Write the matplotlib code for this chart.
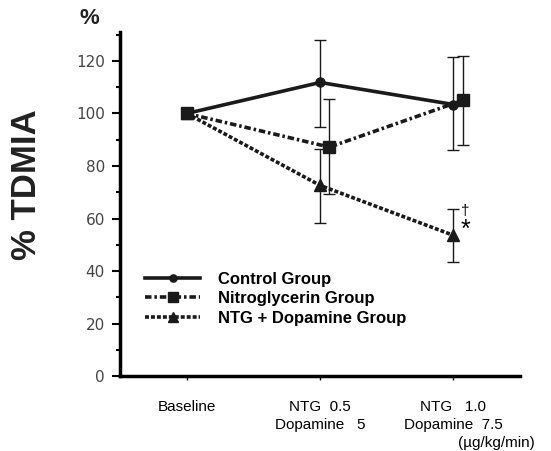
import numpy as np
import matplotlib.pyplot as plt

plt.rcParams['font.family'] = ['Liberation Sans', 'DejaVu Sans']

# data
stages = ['Baseline', 'NTG  0.5\nDopamine   5', 'NTG   1.0\nDopamine  7.5']
control = [100, 111.8, 103.4]
control_err_hi = [0, 16, 18]
control_err_lo = [0, 16.8, 17.4]
nitro = [100, 87.2, 105]
nitro_err_hi = [0, 18.4, 16.8]
nitro_err_lo = [0, 18, 17]
ntg_dop = [100, 72.6, 53.6]
ntg_dop_err_hi = [0, 14, 10]
ntg_dop_err_lo = [0, 14.3, 10]

xs = np.arange(len(stages))
nitro_x = xs + np.array([0, 0.07, 0.07])

fig = plt.figure(figsize=(5.51, 4.51), dpi=100)
ax = fig.add_axes([0.218, 0.166, 0.726, 0.763])

lw = 2.6
c = '#1a1a1a'
ls_nitro = (0, (1.8, 0.8, 0.7, 0.8))
ls_ntg = (0, (1.1, 0.55))

# error bars
for x, y, lo, hi in [(xs, control, control_err_lo, control_err_hi),
                     (nitro_x, nitro, nitro_err_lo, nitro_err_hi),
                     (xs, ntg_dop, ntg_dop_err_lo, ntg_dop_err_hi)]:
    ax.errorbar(x, y, yerr=[lo, hi], fmt='none', ecolor=c, elinewidth=1,
                capsize=4, capthick=1, zorder=2)

ax.plot(xs, control, color=c, lw=lw, marker='o', ms=6.5, label='Control Group', zorder=3)
ax.plot(nitro_x, nitro, color=c, lw=lw, ls=ls_nitro, marker='s', ms=9,
        label='Nitroglycerin Group', zorder=3)
ax.plot(xs, ntg_dop, color=c, lw=lw, ls=ls_ntg, marker='^', ms=9,
        label='NTG + Dopamine Group', zorder=3)

ax.text(2.09, 63, '†', fontsize=11, ha='center', va='center')
ax.text(2.09, 55.5, '*', fontsize=18, ha='center', va='center')

ax.set_xlim(-0.5, 2.5)
ax.set_ylim(0, 131)
ax.set_yticks(np.arange(0, 121, 20))
ax.set_yticks(np.arange(10, 131, 20), minor=True)
ax.set_yticklabels([str(v) for v in range(0, 121, 20)], fontsize=11,
                   family='DejaVu Sans', color='#444444')
ax.set_xticks(xs)
ax.set_xticklabels(stages, fontsize=11, linespacing=1.35)
ax.tick_params(axis='y', which='major', length=6, width=1.5, pad=5)
ax.tick_params(axis='y', which='minor', length=3, width=1.5)
ax.tick_params(axis='x', length=3, width=1, pad=14)

for side in ['top', 'right']:
    ax.spines[side].set_visible(False)
ax.spines['left'].set_linewidth(2.5)
ax.spines['bottom'].set_linewidth(2.5)

ax.text(2.32, -25.5, '(\u00b5g/kg/min)', fontsize=11, ha='center', va='center')
fig.text(0.049, 0.59, '% TDMIA', rotation=90, fontsize=25, fontweight='bold',
         ha='center', va='center', color='#222222')
fig.text(0.163, 0.96, '%', fontsize=16, fontweight='bold', ha='center', va='center',
         color='#222222')

leg = ax.legend(loc='upper left', bbox_to_anchor=(0.0625, 0.304), frameon=False,
                handlelength=3.3, handletextpad=1.05, labelspacing=0.27,
                borderpad=0, borderaxespad=0, markerscale=0.8,
                prop={'weight': 'bold', 'size': 12})

fig.savefig('out.png', dpi=100)
